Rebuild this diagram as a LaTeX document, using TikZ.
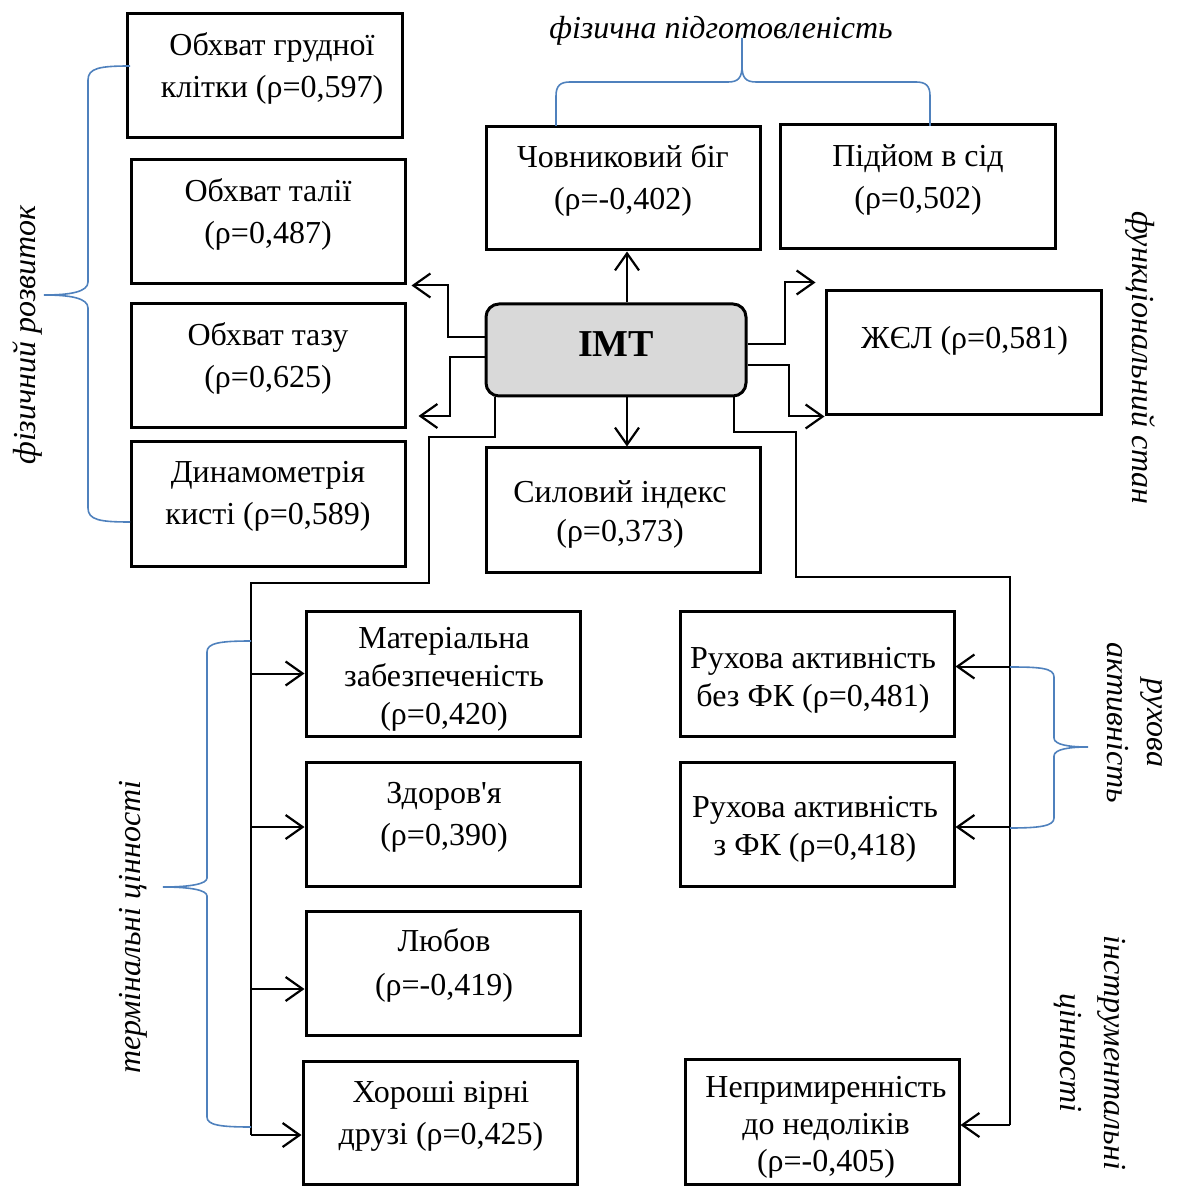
\documentclass[tikz,border=0pt]{standalone}
\usepackage{fontspec}
\setmainfont{Liberation Serif}
\newfontfamily\plainapos{Liberation Serif}
\usetikzlibrary{arrows.meta}
\definecolor{bl}{RGB}{79,129,189}
\definecolor{imtgray}{RGB}{217,217,217}
\begin{document}
\begin{tikzpicture}[x=0.5pt,y=-0.5pt,
  box/.style={draw,line width=1.5pt,minimum width=137pt,minimum height=62pt,inner sep=0pt},
  txt/.style={align=center,font=\fontsize{16}{21}\selectfont,inner sep=0pt},
  txtn/.style={align=center,font=\fontsize{16}{19}\selectfont,inner sep=0pt},
  lbl/.style={align=center,font=\fontsize{16}{20}\selectfont\itshape,inner sep=0pt},
  line/.style={line width=1pt},
  conn/.style={line width=1pt,-{Straight Barb[length=8.5pt,width=12pt,line width=1.1pt]}},
  brace/.style={draw=bl,line width=0.8pt},
]
\useasboundingbox (0,0) rectangle (1180,1186);

% boxes
\node[box,minimum width=137.5pt] (b1) at (264.5,76) {};
\node[box] (b2) at (268,222) {};
\node[box] (b3) at (268,366) {};
\node[box] (b4) at (268,504) {};
\node[box,minimum height=61.5pt] (ch) at (623,188.5) {};
\node[box,minimum width=137.5pt] (pd) at (917.5,187) {};
\node[draw,line width=1.5pt,rounded corners=6.5pt,fill=imtgray,minimum width=130pt,minimum height=46pt] (imt) at (616,350) {};
\node[font=\fontsize{19}{22}\selectfont\bfseries,inner sep=0pt] (timt) at (616,344) {ІМТ};
\node[box,minimum width=137.5pt] (zh) at (963.5,353) {};
\node[box] (sy) at (623,510) {};
\node[box,minimum height=62.5pt] (ma) at (443,673.5) {};
\node[box] (zd) at (443,824) {};
\node[box] (lb) at (443,973) {};
\node[box,minimum height=61.5pt] (kh) at (440,1122.5) {};
\node[box,minimum height=62.5pt] (r1) at (817,673.5) {};
\node[box] (r2) at (817,824) {};
\node[box,minimum height=62.5pt] (np) at (822,1121.5) {};

% texts
\node[txt] (t1) at (272,68) {Обхват грудної\\клітки (ρ=0,597)};
\node[txt] (t2) at (268,214) {Обхват талії\\(ρ=0,487)};
\node[txt] (t3) at (268,358) {Обхват тазу\\(ρ=0,625)};
\node[txt] (t4) at (268,496) {Динамометрія\\кисті (ρ=0,589)};
\node[txt] (tch) at (623,180.5) {Човниковий біг\\(ρ=-0,402)};
\node[txt] (tpd) at (918,179.5) {Підйом в сід\\(ρ=0,502)};
\node[txt] (tzh) at (964.5,341) {ЖЄЛ (ρ=0,581)};
\node[align=center,font=\fontsize{16}{19.5}\selectfont,inner sep=0pt] (tsy) at (620,514) {Силовий індекс\\(ρ=0,373)};
\node[txtn] (tma) at (444,679) {Матеріальна\\забезпеченість\\(ρ=0,420)};
\node[txt] (tzd) at (444,817) {Здоров{\plainapos'}я\\(ρ=0,390)};
\node[align=center,font=\fontsize{16}{22}\selectfont,inner sep=0pt] (tlb) at (444,965.5) {Любов\\(ρ=-0,419)};
\node[txt] (tkh) at (441,1116.5) {Хороші вірні\\друзі (ρ=0,425)};
\node[txtn] (tr1) at (813,680) {Рухова активність\\без ФК (ρ=0,481)};
\node[txtn] (tr2) at (815,829) {Рухова активність\\з ФК (ρ=0,418)};
\node[align=center,font=\fontsize{16}{18.5}\selectfont,inner sep=0pt] (tnp) at (826,1127) {Непримиренність\\до недоліків\\(ρ=-0,405)};

% group labels
\node[lbl] (lfp) at (721,31) {фізична підготовленість};
\node[lbl,rotate=90] (lfr) at (28,335) {фізичний розвиток};
\node[lbl,rotate=-90] (lfs) at (1140,358) {функціональний стан};
\node[lbl,rotate=-90] (lra) at (1135,723) {рухова\\активність};
\node[align=center,font=\fontsize{16}{22}\selectfont\itshape,inner sep=0pt,rotate=-90] (lic) at (1090,1053) {інструментальні\\цінності};
\node[lbl,rotate=90] (ltc) at (133,927) {термінальні цінності};

% connectors from IMT
\draw[conn] ([xshift=5.5pt]imt.north) -- ([xshift=5.5pt]imt.north |- ch.south);
\draw[conn] ([xshift=5.5pt]imt.south) -- ([xshift=5.5pt]imt.south |- sy.north);
\draw[conn] ([yshift=6.5pt]imt.west) -- ++(-37,0) |- ([xshift=2.5pt]b2.south east);
\draw[conn] ([yshift=-3.5pt]imt.west) -- ++(-35,0) |- ([xshift=6pt,yshift=-25pt]b3.east);
\draw[conn] ([yshift=3pt]imt.east) -- ++(37,0) |- ([xshift=-4.5pt,yshift=3.5pt]zh.north west);
\draw[conn] ([yshift=-7.5pt]imt.east) -- ++(41,0) |- (zh.south west);

% left trunk
\coordinate (tl) at (251,583);
\coordinate (tlb) at (251,1135);
\coordinate (zdw) at ([yshift=-1.5pt]zd.west);
\coordinate (lbw) at ([yshift=-8pt]lb.west);
\draw[line] ([xshift=-60.5pt]imt.south) |- (429,437) |- (tl) -- (tlb);
\draw[conn] (tl |- ma.west) -- (ma.west);
\draw[conn] (tl |- zdw) -- (zdw);
\draw[conn] (tl |- lbw) -- (lbw);
\draw[conn] (tlb) -- (tlb -| kh.west);

% right trunk
\coordinate (tr) at (1010,577);
\coordinate (trb) at (1010,1125);
\coordinate (r1e) at ([yshift=3.5pt]r1.east);
\coordinate (r2e) at ([yshift=-1.5pt]r2.east);
\draw[line] ([xshift=59pt]imt.south) |- (796,432) |- (tr) -- (trb);
\draw[conn] (tr |- r1e) -- (r1e);
\draw[conn] (tr |- r2e) -- (r2e);
\draw[conn] (trb) -- (trb -| np.east);

% braces
\draw[brace] (556,126) -- (556,96) .. controls (556,86) and (560,82) .. (570,82) -- (728,82)
  .. controls (738,82) and (742,78) .. (742,66) -- (742,38);
\draw[brace] (742,66) .. controls (742,78) and (746,82) .. (756,82) -- (916,82)
  .. controls (926,82) and (930,86) .. (930,96) -- (930,126);
\draw[brace] (130,66) .. controls (100,66) and (88,68) .. (88,80) -- (88,282)
  .. controls (88,292) and (70,295) .. (44,295) .. controls (70,295) and (88,298) .. (88,308)
  -- (88,508) .. controls (88,520) and (100,522) .. (130,522);
\draw[brace] (251,641) .. controls (220,641) and (207,643) .. (207,652) -- (207,878)
  .. controls (207,884) and (190,887) .. (163,887) .. controls (190,887) and (207,890) .. (207,896)
  -- (207,1117) .. controls (207,1125) and (220,1127) .. (251,1127);
\draw[brace] (1010,667) .. controls (1040,667) and (1054,668) .. (1054,677) -- (1054,738)
  .. controls (1054,745) and (1070,747) .. (1088,747) .. controls (1070,747) and (1054,749) .. (1054,756)
  -- (1054,818) .. controls (1054,826) and (1040,828) .. (1010,828);
\end{tikzpicture}
\end{document}
